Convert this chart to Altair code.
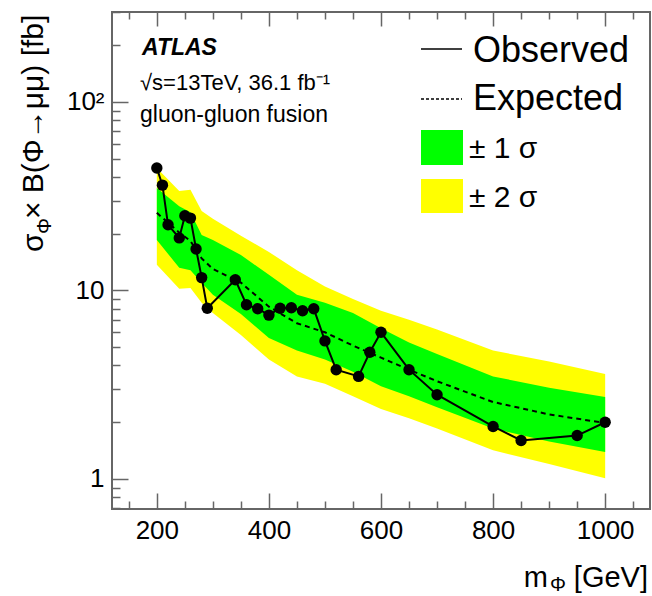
import altair as alt
import pandas as pd

# Observed upper limits (fb) at each tested mass point (GeV)
mass_obs = [200, 210, 220, 240, 250, 260, 270, 280, 290, 340, 360, 380, 400, 420,
            440, 460, 480, 500, 520, 560, 580, 600, 650, 700, 800, 850, 950, 1000]
limit_obs = [44.6, 36.2, 22.3, 19.0, 24.9, 24.2, 16.6, 11.7, 8.05, 11.4, 8.4, 8.0, 7.4, 8.05,
             8.1, 7.8, 8.0, 5.4, 3.8, 3.5, 4.7, 6.0, 3.8, 2.8, 1.9, 1.6, 1.7, 2.0]

# Expected limit and its +-1 / +-2 sigma bands
mass_exp = [200, 240, 260, 280, 300, 350, 400, 450, 500, 550, 600, 650, 700, 800, 900, 1000]
limit_exp = [25.8, 20.3, 18.3, 14.8, 13.0, 11.0, 8.2, 6.7, 6.0, 5.1, 4.4, 3.8, 3.3, 2.56, 2.2, 1.98]
plus1 = [35.0, 28.0, 26.0, 19.7, 18.5, 15.4, 12.1, 9.5, 8.6, 7.6, 6.3, 5.3, 4.6, 3.5, 3.05, 2.72]
minus1 = [18.5, 13.2, 12.8, 11.0, 9.5, 7.5, 5.6, 4.8, 4.3, 3.7, 3.1, 2.75, 2.4, 1.85, 1.58, 1.39]
plus2 = [44.6, 33.7, 34.2, 26.4, 24.0, 19.5, 16.0, 12.8, 10.5, 9.0, 7.8, 7.0, 6.2, 4.8, 4.2, 3.6]
minus2 = [13.7, 10.2, 10.3, 8.6, 7.6, 5.8, 4.3, 3.5, 3.2, 2.75, 2.35, 2.1, 1.85, 1.42, 1.2, 1.01]

x_major = [200, 400, 600, 800, 1000]
x_minor = [150, 250, 300, 350, 450, 500, 550, 650, 700, 750, 850, 900, 950, 1050]
y_major = [1, 10, 100]
y_minor = [0.7, 0.8, 0.9, 2, 3, 4, 5, 6, 7, 8, 9, 20, 30, 40, 50, 60, 70, 80, 90, 200, 300]

FONT = "Liberation Sans"
FRAME = "#666666"
W, H = 538, 497

obs_df = pd.DataFrame({"mass": mass_obs, "limit": limit_obs})
exp_df = pd.DataFrame({"mass": mass_exp, "expected": limit_exp,
                       "up1": plus1, "dn1": minus1, "up2": plus2, "dn2": minus2})
one_row = pd.DataFrame({"k": [0]})

xs = alt.Scale(domain=[120, 1080], nice=False, zero=False)
ys = alt.Scale(type="log", domain=[0.693, 300], nice=False)


def tick_axis(values, size, orient, labels=False, label_expr=None):
    # ticks drawn inward: the axis line is pulled into the frame by the tick length
    kw = dict(values=values, tickSize=size, offset=-size, orient=orient, labels=labels,
              domain=False, grid=False, title=None, tickColor=FRAME, tickWidth=1.5)
    if labels:
        kw.update(labelFont=FONT, labelFontSize=26, labelColor="black", format="d",
                  labelPadding=8, labelOverlap=False, labelFlush=False)
    if label_expr:
        kw["labelExpr"] = label_expr
    return alt.Axis(**kw)


y_label_expr = "datum.value >= 100 ? '10²' : datum.value >= 10 ? '10' : '1'"

band2 = alt.Chart(exp_df).mark_area(color="#ffff00", opacity=1).encode(
    x=alt.X("mass:Q", scale=xs, axis=tick_axis(x_major, 16, "bottom", labels=True)),
    y=alt.Y("dn2:Q", scale=ys, axis=tick_axis(y_major, 16, "left", labels=True,
                                              label_expr=y_label_expr)),
    y2="up2:Q",
)
band1 = alt.Chart(exp_df).mark_area(color="#00ff00", opacity=1).encode(
    x=alt.X("mass:Q", scale=xs, axis=tick_axis(x_minor, 8, "bottom")),
    y=alt.Y("dn1:Q", scale=ys, axis=tick_axis(y_minor, 8, "left")),
    y2="up1:Q",
)
expected = alt.Chart(exp_df).mark_line(color="black", strokeWidth=2, strokeDash=[5, 4]).encode(
    x=alt.X("mass:Q", scale=xs, axis=tick_axis(x_major, 14, "top")),
    y=alt.Y("expected:Q", scale=ys, axis=None),
)
observed = alt.Chart(obs_df).mark_line(color="black", strokeWidth=2).encode(
    x=alt.X("mass:Q", scale=xs, axis=tick_axis(x_minor, 7, "top")),
    y=alt.Y("limit:Q", scale=ys, axis=None),
)
points = alt.Chart(obs_df).mark_circle(color="black", size=130, opacity=1).encode(
    x=alt.X("mass:Q", scale=xs, axis=None),
    y=alt.Y("limit:Q", scale=ys, axis=None),
)


def text(txt, x, y, size, align="left", angle=0, **kw):
    return alt.Chart(one_row).mark_text(
        text=txt, font=FONT, fontSize=size, align=align, baseline="alphabetic",
        angle=angle, color="black", **kw
    ).encode(x=alt.value(x), y=alt.value(y))


def rule(x1, x2, y, dash=None):
    kw = {"strokeDash": dash} if dash else {}
    return alt.Chart(one_row).mark_rule(color="black", strokeWidth=1.5, **kw).encode(
        x=alt.value(x1), x2=alt.value(x2), y=alt.value(y))


def box(x1, x2, y1, y2, color):
    return alt.Chart(one_row).mark_rect(color=color, opacity=1).encode(
        x=alt.value(x1), x2=alt.value(x2), y=alt.value(y1), y2=alt.value(y2))


legend = [
    rule(309, 350, 37),
    text("Observed", 361, 50, 36),
    rule(309, 350, 87, dash=[3, 2]),
    text("Expected", 361, 98, 36),
    box(309, 351, 118, 153, "#00ff00"),
    text("± 1 σ", 357, 146, 30),
    box(309, 351, 167, 201, "#ffff00"),
    text("± 2 σ", 357, 195, 30),
]

labels = [
    text("ATLAS", 30, 43, 23, fontWeight="bold", fontStyle="italic"),
    text("√s=13TeV, 36.1 fb⁻¹", 28, 78, 22),
    text("gluon-gluon fusion", 28, 110, 23),
    # y-axis title, read bottom to top
    text("σ", -69, 240, 30, angle=270),
    text("Φ", -61, 222, 20, angle=270),
    text("× B(Φ→μμ) [fb]", -69, 207, 30, angle=270),
    # x-axis title, right-aligned to the frame
    text("[GeV]", 536, 575, 29, align="right"),
    text("Φ", 454, 579, 20, align="right"),
    text("m", 436, 575, 29, align="right"),
]

chart = alt.layer(band2, band1, expected, observed, points, *legend, *labels).resolve_axis(
    x="independent", y="independent"
).properties(
    width=W, height=H,
    autosize=alt.AutoSizeParams(type="none"),
    padding={"left": 112, "top": 12, "right": 2, "bottom": 87},
).configure_view(stroke=FRAME, strokeWidth=2)

chart.save("out.html", embed_options={"renderer": "svg", "actions": False})
